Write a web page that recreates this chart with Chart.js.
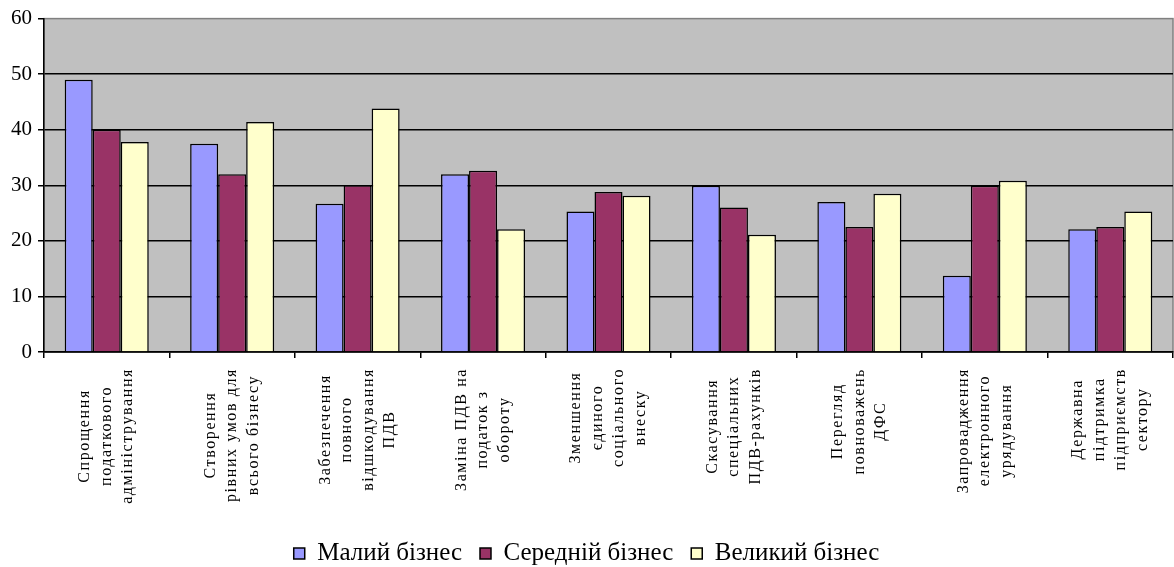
<!DOCTYPE html>
<html>
<head>
<meta charset="utf-8">
<script src="https://cdn.jsdelivr.net/npm/chart.js@4"></script>
<style>
  body { margin: 0; background: #fff; }
  #wrap { width: 1174px; height: 567px; }
</style>
</head>
<body>
<div id="wrap"><canvas id="grafica"></canvas></div>
<script>
const categorias = [
    ["Спрощення", "податкового", "адміністрування"],
    ["Створення", "рівних умов для", "всього бізнесу"],
    ["Забезпечення", "повного", "відшкодування", "ПДВ"],
    ["Заміна ПДВ на", "податок з", "обороту"],
    ["Зменшення", "єдиного", "соціального", "внеску"],
    ["Скасування", "спеціальних", "ПДВ-рахунків"],
    ["Перегляд", "повноважень", "ДФС"],
    ["Запровадження", "електронного", "урядування"],
    ["Державна", "підтримка", "підприємств", "сектору"]
];

const maliy    = [49.0, 37.5, 26.7, 32.0, 25.3, 29.9, 27.0, 13.7, 22.1];
const seredniy = [40.0, 32.0, 30.0, 32.6, 28.8, 26.0, 22.5, 29.9, 22.5];
const velykyi  = [37.8, 41.4, 43.8, 22.1, 28.1, 21.1, 28.5, 30.8, 25.3];

const yTicks = [0, 10, 20, 30, 40, 50, 60];

const serif = "'Liberation Serif', 'Times New Roman', serif";

// fondo gris del area del grafico
const fondo = {
    id: "fondo",
    beforeDraw(chart) {
        const a = chart.chartArea;
        const c = chart.ctx;
        c.save();
        c.fillStyle = "#C0C0C0";
        c.fillRect(a.left, a.top, a.right - a.left, a.bottom - a.top);
        c.strokeStyle = "#808080";
        c.lineWidth = 1.5;
        c.strokeRect(a.left, a.top, a.right - a.left, a.bottom - a.top);
        c.restore();
    }
};

// etiquetas verticales centradas (como en Excel)
const etiquetas = {
    id: "etiquetas",
    afterDraw(chart) {
        const x = chart.scales.x;
        const c = chart.ctx;
        const top = chart.chartArea.bottom + 16;
        const paso = 21.5;
        c.save();
        c.font = "16px " + serif;
        c.letterSpacing = "1.6px";
        c.fillStyle = "#000";
        c.textAlign = "center";
        c.textBaseline = "middle";
        chart.data.labels.forEach((lineas, i) => {
            const cx = x.getPixelForValue(i);
            const maxW = Math.max(...lineas.map(t => c.measureText(t).width));
            const cy = top + maxW / 2;
            lineas.forEach((t, j) => {
                const lx = cx + (j - (lineas.length - 1) / 2) * paso;
                c.save();
                c.translate(lx, cy);
                c.rotate(-Math.PI / 2);
                c.fillText(t, 0, 0);
                c.restore();
            });
        });
        c.restore();
    }
};

new Chart(document.getElementById("grafica"), {
    type: "bar",
    data: {
        labels: categorias,
        datasets: [
            { label: "Малий бізнес", data: maliy, backgroundColor: "#9999FF", borderColor: "#000", borderWidth: 1.5 },
            { label: "Середній бізнес", data: seredniy, backgroundColor: "#993366", borderColor: "#000", borderWidth: 1.5 },
            { label: "Великий бізнес", data: velykyi, backgroundColor: "#FFFFCC", borderColor: "#000", borderWidth: 1.5 }
        ]
    },
    options: {
        responsive: true,
        maintainAspectRatio: false,
        animation: false,
        layout: { padding: { top: 18, right: 1, left: 0, bottom: -9 } },
        datasets: { bar: { categoryPercentage: 0.67, barPercentage: 1.0 } },
        plugins: {
            tooltip: { enabled: false },
            legend: {
                position: "bottom",
                labels: {
                    font: { family: serif, size: 25, lineHeight: 1.0 },
                    color: "#000",
                    boxWidth: 11,
                    boxHeight: 11,
                    padding: 18
                }
            }
        },
        scales: {
            x: {
                afterFit: s => { s.height = 171; },
                ticks: { display: false },
                grid: { display: true, drawOnChartArea: false, drawTicks: true, tickLength: 6, color: "#000", lineWidth: 1.5, offset: true },
                border: { display: true, color: "#000", width: 1.5 }
            },
            y: {
                min: 0,
                max: 60,
                afterFit: s => { s.width = 44; },
                afterBuildTicks: s => { s.ticks = yTicks.map(v => ({ value: v })); },
                ticks: { font: { family: serif, size: 21 }, color: "#000", padding: 6 },
                grid: {
                    color: c => (c.tick && c.tick.value === 60 ? "rgba(0,0,0,0)" : "#000"),
                    lineWidth: 1.5,
                    tickLength: 6,
                    tickColor: "#000"
                },
                border: { display: true, color: "#000", width: 1.5 }
            }
        }
    },
    plugins: [fondo, etiquetas]
});
</script>
</body>
</html>
